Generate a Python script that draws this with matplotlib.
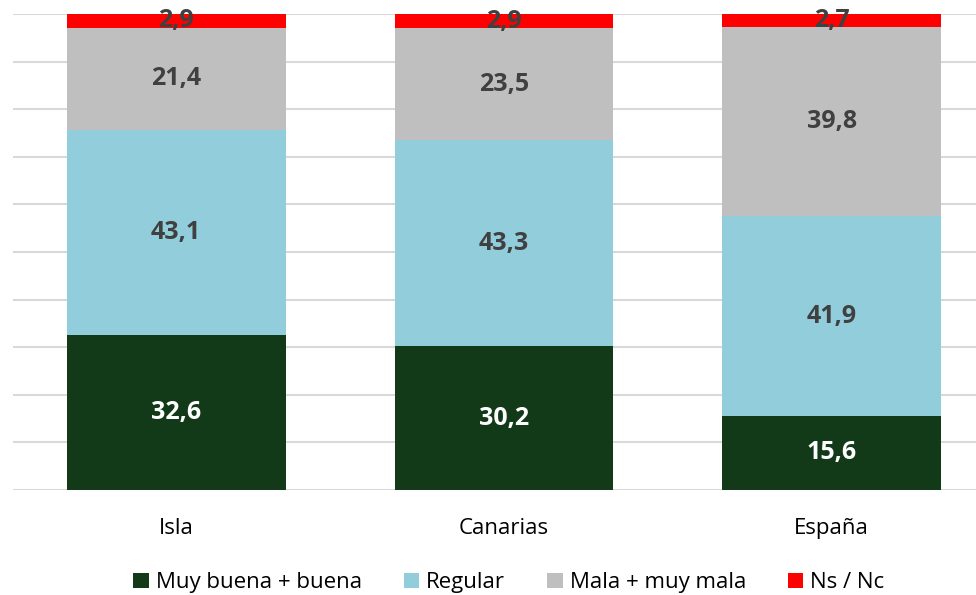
import numpy as np
import matplotlib.pyplot as plt

plt.rcParams['font.family'] = ['Open Sans', 'DejaVu Sans']

# data
categorias = ['Isla', 'Canarias', 'España']
series = ['Muy buena + buena', 'Regular', 'Mala + muy mala', 'Ns / Nc']
muy_buena = [32.6, 30.2, 15.6]
regular = [43.1, 43.3, 41.9]
mala = [21.4, 23.5, 39.8]
ns_nc = [2.9, 2.9, 2.7]

colores = ['#133A18', '#92CDDC', '#BFBFBF', '#FF0000']
colores_texto = ['white', '#404040', '#404040', '#404040']

fig = plt.figure(figsize=(9.76, 5.95), dpi=100)
ax = fig.add_axes([0.0133, 0.1765, 0.9867, 0.8], frameon=False)

x = np.arange(len(categorias))
bottom = np.zeros(len(categorias))
for valores, nombre, color, ctexto in zip([muy_buena, regular, mala, ns_nc], series, colores, colores_texto):
    valores = np.array(valores)
    ax.bar(x, valores, width=0.667, bottom=bottom, color=color, label=nombre, zorder=3)
    for xi, b, v in zip(x, bottom, valores):
        ax.text(xi, b + v / 2, f'{v:.1f}'.replace('.', ','), ha='center', va='center',
                fontsize=18, fontweight='bold', color=ctexto, zorder=4)
    bottom += valores

ax.set_ylim(0, 100)
ax.set_xlim(-0.498, 2.44)
ax.set_yticks(np.arange(0, 101, 10))
ax.yaxis.grid(True, color='#D9D9D9', linewidth=1.5, zorder=0)
ax.set_yticklabels([])
ax.tick_params(axis='y', length=0)
ax.set_xticks(x)
ax.set_xticklabels(categorias, fontsize=16, color='black')
ax.tick_params(axis='x', length=0, pad=20)

fig.legend(loc='center', bbox_to_anchor=(0.5215, 0.021), ncol=4, frameon=False, fontsize=16,
           handlelength=0.68, handleheight=0.68, handletextpad=0.32, columnspacing=1.9)

fig.savefig('out.png', dpi=100)
